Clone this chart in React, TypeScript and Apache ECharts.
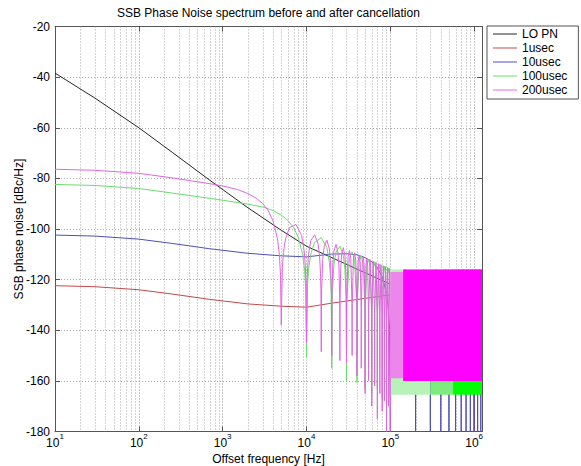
import React, { useEffect, useRef } from 'react';
import * as echarts from 'echarts';

// ---------- texts ----------
const TITLE = 'SSB Phase Noise spectrum before and after cancellation';
const X_LABEL = 'Offset frequency [Hz]';
const Y_LABEL = 'SSB phase noise [dBc/Hz]';
const SERIES_NAMES = ['LO PN', '1usec', '10usec', '100usec', '200usec'];

// ---------- axes ----------
const X_MIN = 10;
const X_MAX = 1.24e6;
const Y_MIN = -180;
const Y_MAX = -20;
const Y_STEP = 20;
const MINOR_DECADES = [10, 100, 1000, 10000, 100000];
const MINOR_MULTIPLES = [2, 3, 4, 5, 6, 7, 8, 9];

// ---------- data: [offset frequency Hz, dBc/Hz] ----------
const LO_PN: number[][] = [
  [10, -38.4], [30, -48.3], [100, -60], [250, -69.7], [700, -80.7], [2000, -91.6],
  [5000, -100.5], [10000, -106.8], [20000, -111.3], [50000, -117.3], [100000, -121.8], [1240000, -122],
];

const SSB_1US: number[][] = [
  [10, -122.4], [30, -122.8], [100, -124], [250, -125.7], [700, -127.8], [2000, -129.6],
  [5000, -130.5], [10000, -130.9], [20000, -129.3], [50000, -127.4], [100000, -126],
  [200000, -120.6], [300000, -117.8], [500000, -116.2], [700000, -117.8], [900000, -126.2],
  [970000, -136], [1000000, -180], [1030000, -136], [1100000, -126.2], [1240000, -119.6],
];

const SSB_10US: number[][] = [
  [10, -102.4], [30, -102.8], [100, -104], [250, -105.7], [700, -107.8], [2000, -109.6],
  [5000, -110.6], [10000, -111], [20000, -109.9], [30000, -109.8], [40000, -110.2],
  [50000, -111.3], [60000, -112.9], [70000, -115.3], [80000, -118.9], [90000, -125.3],
  [95000, -131.6], [98000, -139.7], [100000, -180],
  [102000, -140], [150000, -116], [198000, -140], [200000, -180],
  [202000, -140], [250000, -116], [298000, -140], [300000, -180],
  [302000, -140], [350000, -116], [398000, -140], [400000, -180],
  [402000, -140], [450000, -116], [498000, -140], [500000, -180],
  [502000, -140], [550000, -116], [598000, -140], [600000, -180],
  [602000, -140], [650000, -116], [698000, -140], [700000, -180],
  [702000, -140], [750000, -116], [798000, -140], [800000, -180],
  [802000, -140], [850000, -116], [898000, -140], [900000, -180],
  [902000, -140], [950000, -116], [998000, -140], [1000000, -180],
  [1002000, -140], [1050000, -116], [1098000, -140], [1100000, -180],
  [1102000, -140], [1150000, -116], [1198000, -140], [1200000, -180],
  [1202000, -140], [1240000, -116.5],
];

const SSB_100US: number[][] = [
  [10, -82.4], [30, -82.8], [100, -84], [250, -85.8], [700, -87.9], [1000, -88.6],
  [2000, -90.2], [3000, -91.3], [4000, -92.7], [5000, -94.5], [6000, -96.6], [7000, -99.4],
  [8000, -103.4], [9000, -110.1], [9500, -116.4], [9800, -124.6], [10000, -150.7],
  [10300, -121.5], [10625, -115.4], [11250, -109.9], [12500, -105.3], [15000, -103.4],
  [17500, -107.4], [18750, -113.2], [19375, -119.3], [19700, -125.7], [20000, -155],
  [20300, -125.9], [21250, -114], [22500, -109.1], [25000, -106.8], [27500, -110.4],
  [28750, -116], [29700, -128.4], [30000, -160],
  [30300, -128.5], [32500, -111.5], [35000, -109], [37500, -112.4], [39700, -130.3], [40000, -160.8],
  [40300, -130.4], [42500, -113.2], [45000, -110.6], [47500, -114], [49700, -131.8], [50000, -163],
  [50300, -131.8], [52500, -114.6], [55000, -112], [57500, -115.2], [59700, -133], [60000, -165],
  [60300, -133], [62500, -115.7], [65000, -113], [67500, -116.2], [69700, -133.9], [70000, -163],
  [70300, -134], [72500, -116.6], [75000, -113.9], [77500, -117.1], [79700, -134.8], [80000, -167],
  [80300, -134.8], [82500, -117.5], [85000, -114.7], [87500, -117.9], [89700, -135.6], [90000, -165],
  [90300, -135.6], [92500, -118.3], [95000, -115.5], [97500, -118.6], [99700, -136.3], [100000, -170],
];

const SSB_200US: number[][] = [
  [10, -76.4], [30, -76.8], [100, -78], [250, -79.8], [700, -82.1], [1000, -83],
  [1500, -84.4], [2000, -86], [2500, -87.8], [3000, -89.9], [3500, -92.8], [4000, -96.9],
  [4500, -103.7], [4750, -110.1], [4900, -118.3], [5000, -138],
  [5150, -115.3], [5312, -109.2], [5625, -103.9], [6250, -99.5], [7500, -98.2], [8750, -102.6],
  [9375, -108.5], [9688, -114.7], [9850, -121.2], [10000, -145],
  [10150, -121.4], [10312, -115.2], [10625, -109.5], [11250, -104.6], [12500, -102.3], [13750, -105.9],
  [14375, -111.5], [14688, -117.5], [14850, -123.9], [15000, -148.5],
  [15150, -124], [15625, -112], [16250, -107], [17500, -104.4], [18750, -107.9], [19375, -113.4],
  [19850, -125.8], [20000, -150],
  [20150, -125.9], [20625, -113.8], [21250, -108.7], [22500, -106.1], [23750, -109.4], [24375, -114.9],
  [24850, -127.2], [25000, -152],
  [25150, -127.3], [25625, -115.2], [26250, -110.1], [27500, -107.4], [28750, -110.7], [29375, -116.1],
  [29850, -128.4], [30000, -153],
  [30150, -128.5], [31250, -111.2], [32500, -108.5], [33750, -111.7], [34850, -129.4], [35000, -150],
  [35150, -129.5], [36250, -112.2], [37500, -109.4], [38750, -112.6], [39850, -130.3], [40000, -158],
  [40150, -130.4], [41250, -113], [42500, -110.2], [43750, -113.4], [44850, -131], [45000, -155],
  [45150, -131.1], [46250, -113.7], [47500, -111], [48750, -114.1], [49850, -131.8], [50000, -165],
  [50150, -131.8], [51250, -114.5], [52500, -111.6], [53750, -114.8], [54850, -132.4], [55000, -160],
  [55150, -132.5], [57500, -112.1], [59850, -133], [60000, -170],
  [60150, -133], [62500, -112.7], [64850, -133.5], [65000, -162],
  [65150, -133.5], [67500, -113.2], [69850, -133.9], [70000, -175],
  [70150, -134], [72500, -113.7], [74850, -134.4], [75000, -165],
  [75150, -134.4], [77500, -114.1], [79850, -134.8], [80000, -172],
  [80150, -134.8], [82500, -114.5], [84850, -135.2], [85000, -168],
  [85150, -135.2], [87500, -114.9], [89850, -135.6], [90000, -180],
  [90150, -135.6], [92500, -115.3], [94850, -136], [95000, -170],
  [95150, -136], [97500, -115.6], [99850, -136.3], [100000, -180],
];

// dense (aliased) oscillation region above 100 kHz: [fStart, fEnd, top dB, bottom dB]
const BAND_100US_FAINT: number[][] = [[100000, 300000, -116, -165.5]];
const BAND_100US_MID: number[][] = [[300000, 560000, -116, -165.5]];
const BAND_100US_SOLID: number[][] = [[560000, 1240000, -116, -165.5]];
const BAND_200US_FAINT: number[][] = [[100000, 142000, -117, -159]];
const BAND_200US_SOLID: number[][] = [[142000, 1240000, -116, -160]];

// ---------- styles ----------
const FONT = "'Liberation Sans', Arial, Helvetica, sans-serif";
const AXIS_COLOR = '#555555';
const GRID_COLOR = '#a8a8a8';
const LINE_COLORS = ['#262626', '#c44848', '#4f4fbc', '#6cdc6c', '#e266e2'];
const BAND_COLORS = {
  faint100: '#b9f2b9',
  mid100: '#7eeb7e',
  solid100: '#00ff00',
  faint200: '#ec86ec',
  solid200: '#ff00ff',
};

function lineSeries(name: string, data: number[][], color: string, z: number) {
  return {
    type: 'line',
    name,
    data,
    showSymbol: false,
    symbol: 'none',
    silent: true,
    clip: true,
    lineStyle: { width: 1, color },
    itemStyle: { color },
    emphasis: { disabled: true },
    z,
  };
}

function bandSeries(name: string, data: number[][], color: string, z: number) {
  return {
    type: 'custom',
    name,
    data,
    encode: { x: [0, 1], y: [2, 3] },
    clip: true,
    silent: true,
    z,
    renderItem: (_p: any, api: any) => {
      const a = api.coord([api.value(0), api.value(2)]);
      const b = api.coord([api.value(1), api.value(3)]);
      return {
        type: 'rect',
        shape: { x: a[0], y: a[1], width: b[0] - a[0], height: b[1] - a[1] },
        style: { fill: color },
      };
    },
  };
}

export default function App() {
  const ref = useRef<HTMLDivElement>(null);

  useEffect(() => {
    if (!ref.current) return;
    const chart = echarts.init(ref.current, undefined, { renderer: 'svg' });

    const minorX: number[][] = [];
    MINOR_DECADES.forEach((d) =>
      MINOR_MULTIPLES.forEach((m) => {
        if (m * d < X_MAX) minorX.push([m * d, Y_MIN]);
      })
    );

    const xLabelFormatter = (v: number) => {
      const e = Math.log10(v);
      if (Math.abs(e - Math.round(e)) > 1e-6) return '';
      return `{b|10}{s|${Math.round(e)}}`;
    };

    const option: any = {
      animation: false,
      backgroundColor: '#ffffff',
      textStyle: { fontFamily: FONT },
      title: {
        text: TITLE,
        left: 117,
        top: 7,
        padding: 0,
        textStyle: { fontSize: 12, fontWeight: 'normal', color: '#000', fontFamily: FONT },
      },
      grid: {
        left: 55,
        right: 99,
        top: 26.5,
        bottom: 34.5,
        containLabel: false,
        outerBoundsMode: 'none',
      },
      legend: {
        data: SERIES_NAMES,
        orient: 'vertical',
        left: 487,
        top: 26,
        padding: [1, 11, 2, 6],
        itemGap: 0,
        itemWidth: 24,
        itemHeight: 1,
        icon: 'rect',
        borderColor: '#555',
        borderWidth: 1,
        borderRadius: 0,
        backgroundColor: '#fff',
        selectedMode: false,
        textStyle: { fontSize: 12, lineHeight: 14, color: '#000', fontFamily: FONT },
      },
      xAxis: [
        {
          type: 'log',
          logBase: 10,
          min: X_MIN,
          max: X_MAX,
          position: 'bottom',
          name: X_LABEL,
          nameLocation: 'middle',
          nameGap: 21.5,
          nameMoveOverlap: false,
          nameTextStyle: { fontSize: 12, color: '#000', fontFamily: FONT },
          axisLine: { show: true, lineStyle: { color: AXIS_COLOR, width: 1 } },
          axisTick: { show: true, inside: true, length: 5, lineStyle: { color: AXIS_COLOR } },
          axisLabel: {
            formatter: xLabelFormatter,
            margin: 1,
            rich: {
              b: { fontSize: 12, lineHeight: 20, color: '#000', fontFamily: FONT },
              s: { fontSize: 8, lineHeight: 9, verticalAlign: 'top', color: '#000', fontFamily: FONT },
            },
          },
          splitLine: { show: true, lineStyle: { type: [1, 2], color: '#909090', width: 1 } },
        },
        {
          type: 'log',
          logBase: 10,
          min: X_MIN,
          max: X_MAX,
          position: 'top',
          axisLine: { show: true, lineStyle: { color: AXIS_COLOR, width: 1 } },
          axisTick: { show: true, inside: true, length: 5, lineStyle: { color: AXIS_COLOR } },
          axisLabel: { show: false },
          splitLine: { show: false },
        },
      ],
      yAxis: [
        {
          type: 'value',
          min: Y_MIN,
          max: Y_MAX,
          interval: Y_STEP,
          position: 'left',
          name: Y_LABEL,
          nameLocation: 'middle',
          nameGap: 30,
          nameMoveOverlap: false,
          nameTextStyle: { fontSize: 12, color: '#000', fontFamily: FONT },
          axisLine: { show: true, lineStyle: { color: AXIS_COLOR, width: 1 } },
          axisTick: { show: true, inside: true, length: 5, lineStyle: { color: AXIS_COLOR } },
          axisLabel: { margin: 5, fontSize: 12, color: '#000', fontFamily: FONT },
          splitLine: { show: true, lineStyle: { type: [1, 2], color: GRID_COLOR, width: 1 } },
        },
        {
          type: 'value',
          min: Y_MIN,
          max: Y_MAX,
          interval: Y_STEP,
          position: 'right',
          axisLine: { show: true, lineStyle: { color: AXIS_COLOR, width: 1 } },
          axisTick: { show: true, inside: true, length: 5, lineStyle: { color: AXIS_COLOR } },
          axisLabel: { show: false },
          splitLine: { show: false },
        },
      ],
      series: [
        {
          type: 'custom',
          name: 'minor grid',
          data: minorX,
          encode: { x: 0, y: 1 },
          silent: true,
          clip: true,
          z: 1,
          renderItem: (_p: any, api: any) => {
            const t = api.coord([api.value(0), Y_MAX]);
            const b = api.coord([api.value(0), Y_MIN]);
            const x = Math.round(t[0]) + 0.5;
            return {
              type: 'line',
              shape: { x1: x, y1: t[1], x2: x, y2: b[1] },
              style: { stroke: GRID_COLOR, lineWidth: 1, lineDash: [1, 2] },
            };
          },
        },
        lineSeries(SERIES_NAMES[0], LO_PN, LINE_COLORS[0], 3),
        lineSeries(SERIES_NAMES[1], SSB_1US, LINE_COLORS[1], 3),
        lineSeries(SERIES_NAMES[2], SSB_10US, LINE_COLORS[2], 3),
        lineSeries(SERIES_NAMES[3], SSB_100US, LINE_COLORS[3], 4),
        bandSeries('100usec dense a', BAND_100US_FAINT, BAND_COLORS.faint100, 5),
        bandSeries('100usec dense b', BAND_100US_MID, BAND_COLORS.mid100, 5),
        bandSeries('100usec dense c', BAND_100US_SOLID, BAND_COLORS.solid100, 5),
        lineSeries(SERIES_NAMES[4], SSB_200US, LINE_COLORS[4], 6),
        bandSeries('200usec dense a', BAND_200US_FAINT, BAND_COLORS.faint200, 7),
        bandSeries('200usec dense b', BAND_200US_SOLID, BAND_COLORS.solid200, 7),
      ],
    };

    chart.setOption(option);
    return () => chart.dispose();
  }, []);

  return (
    <div
      ref={ref}
      style={{ position: 'fixed', left: 0, top: 0, width: 581, height: 466, background: '#fff' }}
    />
  );
}
